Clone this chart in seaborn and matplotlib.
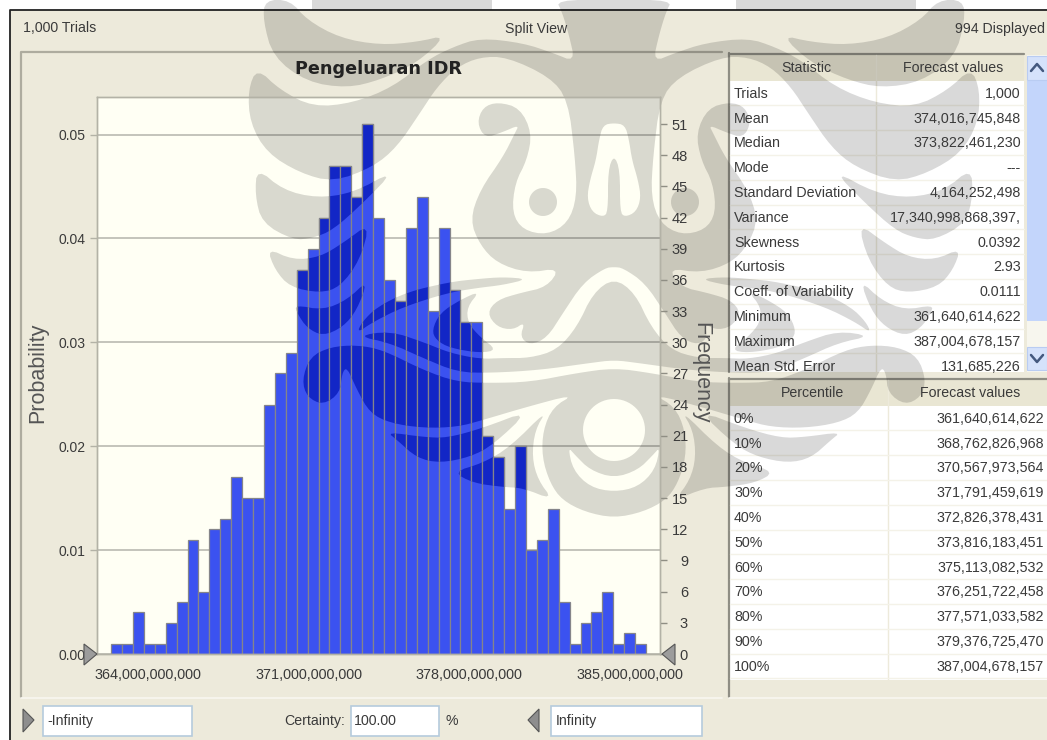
import matplotlib
matplotlib.use("Agg")
import matplotlib.pyplot as plt
import numpy as np
import seaborn as sns
from matplotlib.patches import PathPatch, Polygon, Rectangle
from matplotlib.path import Path
from matplotlib.ticker import FuncFormatter

sns.set_theme(style="white")
plt.rcParams["font.family"] = ["Liberation Sans", "DejaVu Sans"]

W, H = 1047, 740
PANEL = "#EDEADB"
CREAM = "#FFFFF4"
TEXT = "#3a3a3a"
BLUE = "#3B52F0"
DARK_BLUE = "#1226C6"
BAR_EDGE = "#85858a"

# histogram
counts = [1, 1, 4, 1, 1, 3, 5, 11, 6, 12, 13, 17, 15, 15, 24, 27, 29, 37, 39, 42,
          47, 47, 44, 51, 42, 36, 34, 41, 44, 33, 41, 35, 32, 32, 21, 19, 14, 20,
          10, 11, 14, 5, 1, 3, 4, 6, 1, 2, 1]
trials = 1000
bin_start = 362.39e9
bin_end = 385.72e9
x_ticks = [364e9, 371e9, 378e9, 385e9]
prob_ticks = [0.00, 0.01, 0.02, 0.03, 0.04, 0.05]
freq_ticks = list(range(0, 52, 3))

stat_names = ["Trials", "Mean", "Median", "Mode", "Standard Deviation", "Variance",
              "Skewness", "Kurtosis", "Coeff. of Variability", "Minimum", "Maximum",
              "Mean Std. Error"]
stat_values = ["1,000", "374,016,745,848", "373,822,461,230", "---", "4,164,252,498",
               "17,340,998,868,397,", "0.0392", "2.93", "0.0111", "361,640,614,622",
               "387,004,678,157", "131,685,226"]
pct_names = ["0%", "10%", "20%", "30%", "40%", "50%", "60%", "70%", "80%", "90%", "100%"]
pct_values = ["361,640,614,622", "368,762,826,968", "370,567,973,564", "371,791,459,619",
              "372,826,378,431", "373,816,183,451", "375,113,082,532", "376,251,722,458",
              "377,571,033,582", "379,376,725,470", "387,004,678,157"]

# watermark outlines, in picture pixels. Mirrored around AXIS
AXIS = 614
main_half = [(AXIS, 0), (556, 0), (562, 12), (569, 35), (575, 62), (553, 53), (523, 43), (480, 38),
             (453, 47), (427, 60), (393, 87), (353, 103), (313, 107), (280, 90), (257, 68),
             (248, 90), (250, 123), (267, 153), (300, 173), (333, 182), (373, 167), (397, 147),
             (420, 113), (437, 87), (457, 67), (480, 57), (507, 57), (550, 77), (568, 100),
             (575, 157), (577, 197), (568, 223), (547, 235), (523, 230), (512, 213), (515, 183),
             (527, 160), (532, 133), (520, 108), (498, 102), (483, 107), (477, 123), (485, 138),
             (503, 132), (519, 125), (515, 133), (503, 157), (480, 190), (470, 220), (480, 245),
             (497, 263), (527, 273), (560, 268), (547, 287), (520, 293), (497, 300), (487, 313),
             (497, 327), (513, 330), (525, 322), (520, 337), (530, 345), (547, 338), (563, 313),
             (583, 283), (605, 268), (AXIS, 267)]
nose_half = [(AXIS, 123), (603, 125), (599, 140), (596, 160), (590, 180), (587, 198), (592, 212),
             (603, 217), (608, 212), (608, 170), (AXIS, 155)]
arch_half = [(AXIS, 278), (593, 293), (577, 327), (557, 350), (530, 358), (503, 358), (480, 359),
             (450, 353), (423, 342), (390, 331), (357, 336), (390, 343), (423, 358), (457, 372),
             (490, 373), (540, 370), (590, 363), (AXIS, 360)]
body_half = [(AXIS, 368), (577, 373), (530, 382), (490, 383), (457, 382), (423, 370), (383, 350),
             (357, 345), (330, 347), (310, 357), (302, 380), (307, 397), (323, 405), (340, 393),
             (342, 373), (347, 367), (357, 390), (370, 413), (390, 423), (423, 428), (457, 427),
             (483, 420), (523, 408), (575, 394), (553, 407), (543, 430), (542, 457), (550, 483),
             (562, 500), (585, 512), (AXIS, 518)]
crescent_half = [(AXIS, 492), (590, 487), (573, 470), (568, 447), (575, 455), (590, 470), (AXIS, 478)]
lobes = [
    [(290, 0), (307, 20), (340, 38), (380, 45), (417, 42), (447, 35), (417, 63), (380, 80),
     (347, 88), (307, 82), (273, 57), (263, 20), (265, 0)],
    [(257, 168), (283, 190), (317, 198), (353, 193), (395, 170), (363, 203), (333, 230),
     (313, 238), (293, 240), (262, 223), (255, 195)],
    [(267, 248), (293, 260), (320, 257), (343, 243), (370, 223), (360, 260), (340, 287),
     (320, 293), (290, 287), (275, 270)],
    [(295, 305), (323, 310), (347, 300), (368, 280), (357, 310), (343, 327), (323, 336),
     (307, 328), (297, 313)],
    [(528, 279), (503, 277), (477, 279), (450, 282), (407, 292), (377, 307), (362, 322),
     (357, 333), (373, 322), (403, 307), (447, 293), (477, 288), (503, 285)],
    [(480, 291), (460, 300), (440, 313), (432, 330), (436, 340), (450, 348), (480, 353),
     (497, 350), (480, 337), (468, 323), (467, 307)],
    [(387, 432), (423, 437), (447, 438), (483, 428), (530, 410), (493, 445), (470, 457),
     (440, 463), (417, 458), (397, 440)],
    [(453, 472), (483, 463), (510, 447), (547, 410), (535, 430), (532, 457), (538, 480),
     (553, 500), (523, 488), (503, 487), (473, 483)],
]
top_strip = [(312, 0), (492, 0), (492, 9.5), (312, 9.5)]


def smooth(pts, rounds=2):
    pts = np.asarray(pts, dtype=float)
    for _ in range(rounds):
        nxt = np.roll(pts, -1, axis=0)
        pts = np.column_stack([0.75 * pts + 0.25 * nxt, 0.25 * pts + 0.75 * nxt]).reshape(-1, 2)
    return pts


def mirror(pts):
    pts = np.asarray(pts, dtype=float)
    return np.column_stack([2 * AXIS - pts[:, 0], pts[:, 1]])


def closed(pts, hole=False):
    x, y = pts[:, 0], pts[:, 1]
    area = np.sum(x * np.roll(y, -1) - np.roll(x, -1) * y)
    if (area < 0) != hole:
        pts = pts[::-1]
    return Path(np.vstack([pts, pts[:1]]), closed=True)


def whole(half):
    half = np.asarray(half, dtype=float)
    return np.vstack([half, mirror(half[1:-1])[::-1]])


def circle(cx, cy, r):
    t = np.deg2rad(np.arange(0, 360, 6))
    return np.column_stack([cx + r * np.cos(t), cy + r * np.sin(t)])


def watermark_path():
    parts = [closed(smooth(whole(main_half))), closed(smooth(whole(arch_half))),
             closed(smooth(whole(body_half))), closed(smooth(whole(nose_half)), hole=True),
             closed(smooth(whole(crescent_half)), hole=True), closed(circle(AXIS, 430, 31), hole=True)]
    for lobe in lobes:
        parts.append(closed(smooth(lobe)))
        parts.append(closed(smooth(mirror(lobe))))
    parts.append(closed(circle(543, 202, 14)))
    parts.append(closed(circle(2 * AXIS - 543, 202, 14)))
    parts.append(closed(np.array(top_strip, dtype=float)))
    parts.append(closed(mirror(top_strip)))
    return Path.make_compound_path(*parts)


def px_axes(fig, left, top, right, bottom):
    return fig.add_axes([left / W, 1 - bottom / H, (right - left) / W, (bottom - top) / H])


def draw_panels(ui):
    ui.add_patch(Rectangle((10, 10), W, H, fc=PANEL, ec="none", zorder=0))
    ui.plot([10, 10, W], [H, 10, 10], color="#222222", lw=1.3, zorder=1)
    # chart box
    ui.plot([21, 21, 722], [697, 52, 52], color="#aeac9f", lw=1.6, zorder=1)
    ui.plot([21, 722], [698, 698], color="#f8f7f0", lw=1.2, zorder=1)
    ui.add_patch(Rectangle((97, 97), 563, 557, fc=CREAM, ec="none", zorder=1))
    ui.text(23, 28.5, "1,000 Trials", fontsize=10.2, color=TEXT, va="center", zorder=6)
    ui.text(536, 28.5, "Split View", fontsize=10.2, color=TEXT, va="center", ha="center", zorder=6)
    ui.text(1045, 28.5, "994 Displayed", fontsize=10.2, color=TEXT, va="center", ha="right", zorder=6)


def draw_table(ui, top, bottom, right, sep, header, names, values, head_h, first_y, step, value_x):
    back = Rectangle((730, top), right - 730, bottom - top, fc="white", ec="none", zorder=1)
    ui.add_patch(back)
    ui.add_patch(Rectangle((730, top), right - 730, head_h, fc="#E9E6D3", ec="none", zorder=1))
    ui.plot([729, 729], [top - 2, bottom], color="#8f8e84", lw=1.6, zorder=2)
    ui.plot([729, right], [top - 1, top - 1], color="#8f8e84", lw=1.6, zorder=2)
    ui.plot([sep, sep], [top, bottom], color=PANEL, lw=1, zorder=2)
    ui.text((730 + sep) / 2 + 3, top + head_h / 2, header[0], fontsize=10.2, color=TEXT,
            ha="center", va="center", zorder=6)
    ui.text((sep + right) / 2 + 3, top + head_h / 2, header[1], fontsize=10.2, color=TEXT,
            ha="center", va="center", zorder=6)
    for i, (name, value) in enumerate(zip(names, values)):
        y = first_y + i * step
        ui.plot([730, right], [y + step / 2, y + step / 2], color="#F4F2E8", lw=1, zorder=2)
        for txt in (ui.text(734, y + 0.8, name, fontsize=10.3, color=TEXT, va="center", zorder=6),
                    ui.text(value_x, y + 0.8, value, fontsize=10.3, color=TEXT, va="center", ha="right", zorder=6)):
            txt.set_clip_path(back)


def draw_controls(ui):
    # grey foot under the percentile table
    ui.plot([729, 729], [680, 697], color="#8f8e84", lw=1.6, zorder=2)
    ui.plot([729, W], [697.5, 697.5], color="#f8f7f0", lw=1.2, zorder=2)
    for left, right in [(43, 192), (351, 439), (551, 702)]:
        ui.add_patch(Rectangle((left, 706), right - left, 30, fc="white", ec="#B5CBDD", lw=1.2, zorder=4))
    ui.text(47, 721, "-Infinity", fontsize=10.2, color=TEXT, va="center", zorder=6)
    ui.text(345, 721, "Certainty:", fontsize=10.2, color=TEXT, va="center", ha="right", zorder=6)
    ui.text(354, 721, "100.00", fontsize=10.2, color=TEXT, va="center", zorder=6)
    ui.text(446, 721, "%", fontsize=10.2, color=TEXT, va="center", zorder=6)
    ui.text(556, 721, "Infinity", fontsize=10.2, color=TEXT, va="center", zorder=6)
    ui.add_patch(Polygon([(23, 709), (23, 732), (34, 720)], fc="#8e8e8e", ec="#555555", lw=0.8, zorder=6))
    ui.add_patch(Polygon([(539, 709), (539, 732), (528, 720)], fc="#8e8e8e", ec="#555555", lw=0.8, zorder=6))
    # scrollbar
    ui.add_patch(Rectangle((1027, 55), 20, 317, fc="#F7F6EE", ec="none", zorder=1))
    ui.add_patch(Rectangle((1027, 81), 20, 240, fc="#C3D5FB", ec="none", zorder=2))
    ui.add_patch(Rectangle((1027, 56), 20, 24, fc="#D5E2FB", ec="#B9CCF2", lw=0.8, zorder=2))
    ui.add_patch(Rectangle((1027, 347), 20, 23, fc="#D5E2FB", ec="#B9CCF2", lw=0.8, zorder=2))
    ui.plot([1031, 1037, 1043], [71, 64, 71], color="#44597f", lw=1.8, zorder=3)
    ui.plot([1031, 1037, 1043], [355, 362, 355], color="#44597f", lw=1.8, zorder=3)


def draw_chart(fig, ui, wm):
    ax = px_axes(fig, 97, 97, 660, 654)
    ax.set_zorder(2)
    ax.patch.set_alpha(0)
    edges = np.linspace(bin_start, bin_end, len(counts) + 1)
    centres = (edges[:-1] + edges[1:]) / 2
    probs = np.array(counts) / trials
    ax.set_axisbelow(True)
    hist_kw = dict(x=centres, weights=probs, bins=len(counts), binrange=(bin_start, bin_end),
                   edgecolor=BAR_EDGE, linewidth=0.9, alpha=1, ax=ax)
    sns.histplot(color=BLUE, **hist_kw)
    n_light = len(ax.patches)
    sns.histplot(color=DARK_BLUE, **hist_kw)
    # where the watermark lies on the bars they turn darker
    for bar in ax.patches[n_light:]:
        bar.set_clip_path(wm, ui.transData)

    px_per_bn = 160.5 / 7e9
    ax.set_xlim(x_ticks[0] - 51 / px_per_bn, x_ticks[0] + 512 / px_per_bn)
    ax.set_ylim(0, 557 / 10390)
    ax.set_xticks(x_ticks)
    ax.xaxis.set_major_formatter(FuncFormatter(lambda v, _: f"{v:,.0f}"))
    ax.set_yticks(prob_ticks)
    ax.yaxis.set_major_formatter(FuncFormatter(lambda v, _: f"{v:.2f}"))
    ax.grid(axis="y", color="black", alpha=0.23, lw=1.4)
    ax.tick_params(axis="y", length=5, width=1, color="#b3b2a6", labelsize=10,
                   labelcolor=TEXT, pad=3.5)
    ax.tick_params(axis="x", length=5, width=1, color="#b3b2a6", labelsize=10.4,
                   labelcolor=TEXT, pad=5)
    ax.set_ylabel("Probability", fontsize=15.5, color="#555555", labelpad=7, y=0.505)
    ax.set_title("Pengeluaran IDR", fontsize=12.7, fontweight="bold", color="#222222", pad=16.5,
                 family=["DejaVu Sans"])
    ax.set_xlabel("")

    ax2 = ax.twinx()
    ax2.set_zorder(3)
    ax2.patch.set_alpha(0)
    ax2.set_ylim(0, ax.get_ylim()[1] * trials)
    ax2.set_yticks(freq_ticks)
    ax2.tick_params(axis="y", length=5, width=1, color="#8f8e84", labelsize=10.5,
                    labelcolor=TEXT, pad=15.2)
    for lab in ax2.get_yticklabels():
        lab.set_ha("right")
    ax2.set_ylabel("Frequency", fontsize=15.5, color="#555555", rotation=-90, labelpad=17, y=0.505)
    for a in (ax, ax2):
        for spine in a.spines.values():
            spine.set_color("#b3b2a6")
            spine.set_linewidth(1)

    ax2.add_patch(Polygon([(84, 644), (84, 665), (97, 654)], transform=ui.transData, fc="#9c9c9c",
                          ec="#555555", lw=0.8, zorder=10, clip_on=False))
    ax2.add_patch(Polygon([(675, 644), (675, 665), (662, 654)], transform=ui.transData, fc="#9c9c9c",
                          ec="#555555", lw=0.8, zorder=10, clip_on=False))


fig = plt.figure(figsize=(W / 100, H / 100), dpi=100, facecolor="white")
ui = fig.add_axes([0, 0, 1, 1])
ui.set_xlim(0, W)
ui.set_ylim(H, 0)
ui.axis("off")
ui.set_zorder(0)

draw_panels(ui)
draw_table(ui, 55, 372, 1024, 876, ("Statistic", "Forecast values"), stat_names, stat_values,
           26, 93, 24.8, 1021)
draw_table(ui, 380, 680, W, 888, ("Percentile", "Forecast values"), pct_names, pct_values,
           26, 418, 24.8, 1044)
draw_controls(ui)

wm = watermark_path()
ui.add_patch(PathPatch(wm, fc="black", ec="none", alpha=0.15, zorder=3))
draw_chart(fig, ui, wm)

fig.savefig("out.png", dpi=100)
